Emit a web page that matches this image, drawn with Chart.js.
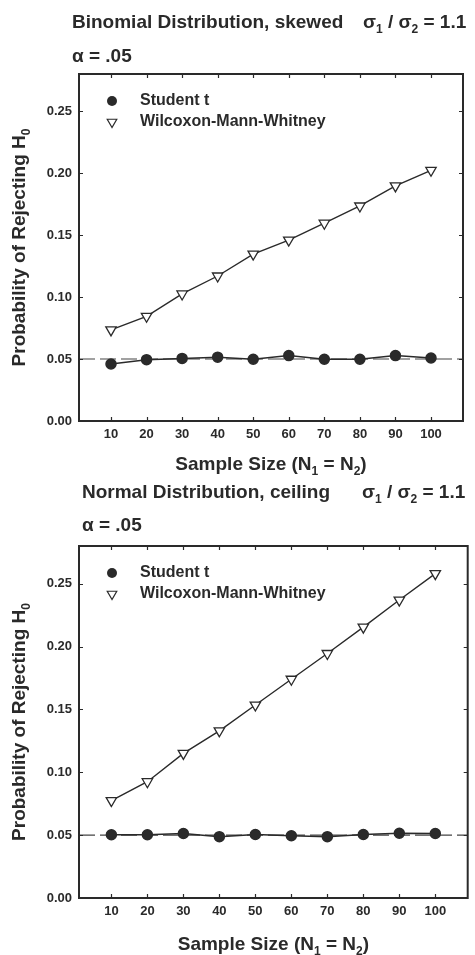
<!DOCTYPE html>
<html>
<head>
<meta charset="utf-8">
<script src="https://cdn.jsdelivr.net/npm/chart.js@4.4.1/dist/chart.umd.min.js"></script>
<style>
  html, body { margin: 0; padding: 0; background: #fff; }
  canvas { display: block; }
</style>
</head>
<body>
<canvas id="chart1" width="475" height="480"></canvas>
<canvas id="chart2" width="475" height="475"></canvas>
<script>
// values
const sampleSizes = [10, 20, 30, 40, 50, 60, 70, 80, 90, 100];
const yTickValues = [0, 0.05, 0.10, 0.15, 0.20, 0.25];
const seriesNames = ["Student t", "Wilcoxon-Mann-Whitney"];
const nominalAlpha = 0.05;

const binomialStudentT = [0.046, 0.0495, 0.0505, 0.0515, 0.0498, 0.0528, 0.0498, 0.0498, 0.0528, 0.0508];
const binomialWilcoxon = [0.0735, 0.0845, 0.1025, 0.117, 0.1347, 0.146, 0.1596, 0.1735, 0.1897, 0.2023];
const normalStudentT = [0.0503, 0.0503, 0.0513, 0.0488, 0.0505, 0.0495, 0.0488, 0.0505, 0.0515, 0.0513];
const normalWilcoxon = [0.0775, 0.0925, 0.115, 0.133, 0.1535, 0.174, 0.1945, 0.2155, 0.237, 0.258];

const INK = "#2a2a2a";
const FONT = "'Liberation Sans', Arial, sans-serif";

// draws text made of [string, isSubscript] parts, returns end x
function drawRich(ctx, parts, x, y, size) {
  for (const [t, sub] of parts) {
    ctx.font = `bold ${sub ? Math.round(size * 0.62) : size}px ${FONT}`;
    ctx.fillText(t, x, y + (sub ? size * 0.36 : 0));
    x += ctx.measureText(t).width;
  }
  return x;
}

function richWidth(ctx, parts, size) {
  let w = 0;
  for (const [t, sub] of parts) {
    ctx.font = `bold ${sub ? Math.round(size * 0.62) : size}px ${FONT}`;
    w += ctx.measureText(t).width;
  }
  return w;
}

const decorPlugin = {
  id: "decor",
  afterDraw(chart, args, opts) {
    const { ctx, chartArea: a, scales } = chart;
    const xs = scales.x, ys = scales.y;
    ctx.save();
    ctx.fillStyle = INK;
    ctx.strokeStyle = INK;
    ctx.textBaseline = "middle";
    ctx.textAlign = "left";

    // header
    drawRich(ctx, [[opts.title, false]], opts.titleX, opts.titleY, 19);
    drawRich(ctx, [["σ", false], ["1", true], [" / σ", false], ["2", true], [" = 1.1", false]],
      opts.ratioX, opts.titleY, 19);
    drawRich(ctx, [["α = .05", false]], opts.titleX, opts.alphaY, 19);

    // frame and inward ticks
    ctx.lineWidth = 2;
    ctx.strokeRect(a.left, a.top, a.right - a.left, a.bottom - a.top);
    ctx.lineWidth = 1.2;
    ctx.beginPath();
    sampleSizes.forEach(v => {
      const px = Math.round(xs.getPixelForValue(v)) + 0.5;
      ctx.moveTo(px, a.bottom); ctx.lineTo(px, a.bottom - 4);
      ctx.moveTo(px, a.top); ctx.lineTo(px, a.top + 4);
    });
    yTickValues.forEach(v => {
      const py = Math.round(ys.getPixelForValue(v)) + 0.5;
      ctx.moveTo(a.left, py); ctx.lineTo(a.left + 4, py);
      ctx.moveTo(a.right, py); ctx.lineTo(a.right - 4, py);
    });
    ctx.stroke();

    // axis titles
    const xParts = [["Sample Size (N", false], ["1", true], [" = N", false], ["2", true], [")", false]];
    const xw = richWidth(ctx, xParts, 19);
    drawRich(ctx, xParts, (a.left + a.right) / 2 - xw / 2, opts.xTitleY, 19);
    const yParts = [["Probability of Rejecting H", false], ["0", true]];
    const yw = richWidth(ctx, yParts, 19);
    ctx.save();
    ctx.translate(20, (a.top + a.bottom) / 2);
    ctx.rotate(-Math.PI / 2);
    drawRich(ctx, yParts, -yw / 2, 0, 19);
    ctx.restore();

    // legend inside the plot
    const lx = a.left + 33, tx = a.left + 61;
    const ly1 = a.top + 27, ly2 = a.top + 48;
    ctx.beginPath();
    ctx.arc(lx, ly1, 5, 0, Math.PI * 2);
    ctx.fill();
    ctx.beginPath();
    const r = 5.5;
    ctx.moveTo(lx, ly2 + r);
    ctx.lineTo(lx - r * 0.866, ly2 - r / 2);
    ctx.lineTo(lx + r * 0.866, ly2 - r / 2);
    ctx.closePath();
    ctx.fillStyle = "#fff";
    ctx.fill();
    ctx.lineWidth = 1.2;
    ctx.stroke();
    ctx.fillStyle = INK;
    drawRich(ctx, [[seriesNames[0], false]], tx, ly1, 16);
    drawRich(ctx, [[seriesNames[1], false]], tx, ly2, 16);
    ctx.restore();
  }
};

function makeChart(id, studentVals, wilcoxVals, cfg) {
  const toPts = vals => sampleSizes.map((x, i) => ({ x: x, y: vals[i] }));
  return new Chart(document.getElementById(id), {
    type: "line",
    data: {
      datasets: [
        {
          label: seriesNames[0],
          data: toPts(studentVals),
          borderColor: INK,
          borderWidth: 1.5,
          backgroundColor: INK,
          pointStyle: "circle",
          pointRadius: 5,
          pointBackgroundColor: INK,
          pointBorderColor: INK,
          order: 1
        },
        {
          label: seriesNames[1],
          data: toPts(wilcoxVals),
          borderColor: INK,
          borderWidth: 1.4,
          pointStyle: "triangle",
          rotation: 180,
          pointRadius: 6,
          pointBackgroundColor: "#fff",
          pointBorderColor: INK,
          pointBorderWidth: 1.3,
          order: 2
        },
        {
          label: "alpha",
          data: [{ x: 1, y: nominalAlpha }, { x: 109, y: nominalAlpha }],
          borderColor: "#444",
          borderWidth: 1.1,
          borderDash: [16, 5],
          pointRadius: 0,
          order: 3
        }
      ]
    },
    options: {
      responsive: false,
      animation: false,
      layout: { padding: { top: cfg.topPad, right: cfg.rightPad, left: 0, bottom: 0 } },
      plugins: {
        legend: { display: false },
        tooltip: { enabled: false },
        decor: cfg
      },
      scales: {
        x: {
          type: "linear",
          min: 1,
          max: 109,
          afterBuildTicks: s => { s.ticks = sampleSizes.map(v => ({ value: v })); },
          afterFit: s => { s.height = cfg.xAxisH; },
          grid: { display: false, drawTicks: false },
          border: { display: false },
          ticks: { padding: 6, color: INK, font: { family: FONT, size: 13, weight: "bold" } }
        },
        y: {
          min: 0,
          max: 0.28,
          afterBuildTicks: s => { s.ticks = yTickValues.map(v => ({ value: v })); },
          afterFit: s => { s.width = 79; },
          grid: { display: false, drawTicks: false },
          border: { display: false },
          ticks: {
            padding: 7,
            color: INK,
            font: { family: FONT, size: 13, weight: "bold" },
            callback: v => Number(v).toFixed(2)
          }
        }
      }
    },
    plugins: [decorPlugin]
  });
}

makeChart("chart1", binomialStudentT, binomialWilcoxon, {
  title: "Binomial Distribution, skewed",
  titleX: 72, titleY: 23, alphaY: 57, ratioX: 363,
  topPad: 74, rightPad: 12, xAxisH: 59, xTitleY: 465
});
makeChart("chart2", normalStudentT, normalWilcoxon, {
  title: "Normal Distribution, ceiling",
  titleX: 82, titleY: 13, alphaY: 46, ratioX: 362,
  topPad: 66, rightPad: 1, xAxisH: 57, xTitleY: 465
});
</script>
</body>
</html>
